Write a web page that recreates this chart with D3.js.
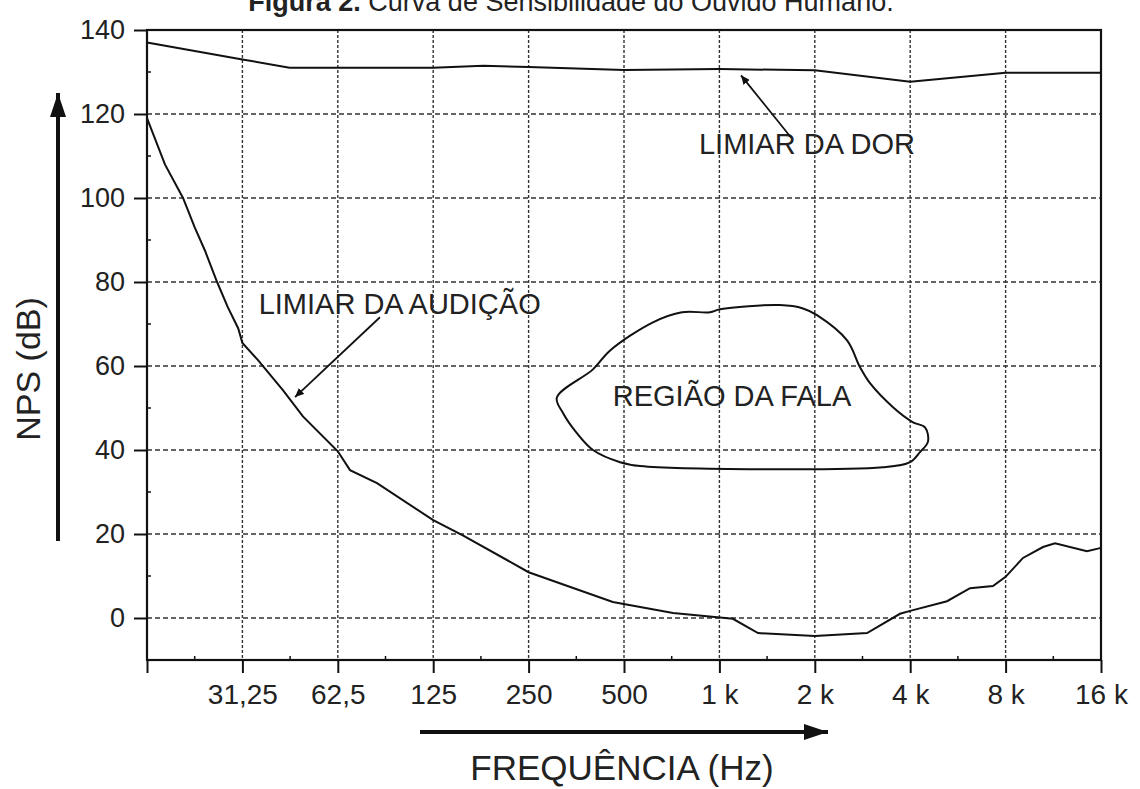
<!DOCTYPE html>
<html>
<head>
<meta charset="utf-8">
<script src="https://cdnjs.cloudflare.com/ajax/libs/d3/7.8.5/d3.min.js"></script>
<style>
  body { margin: 0; background: #fff; }
  svg text { font-family: "Liberation Sans", Arial, sans-serif; fill: #222; }
</style>
</head>
<body>
<div id="chart"></div>
<script>
// frequency ticks (Hz) and their printed labels
const freqTicks = [15.625, 31.25, 62.5, 125, 250, 500, 1000, 2000, 4000, 8000, 16000];
const freqLabels = ["", "31,25", "62,5", "125", "250", "500", "1 k", "2 k", "4 k", "8 k", "16 k"];
const npsTicks = [0, 20, 40, 60, 80, 100, 120, 140];

// limiar da dor  [Hz, dB]
const painFreq = [15.625, 31.25, 44, 62.5, 125, 180, 250, 500, 1000, 2000, 4000, 8000, 16000];
const painDb = [137, 133, 131, 131, 131, 131.5, 131.2, 130.5, 130.7, 130.4, 127.7, 129.8, 129.8];

// limiar da audicao [Hz, dB]
const hearFreq = [15.625, 17.8, 20.3, 22.1, 23.8, 26, 28.1, 30.3, 31.25, 35, 42, 48.5, 62.5, 68.3, 83.1,
  125, 155, 250, 461, 714, 1103, 1324, 2000, 2924, 3714, 4000, 5227, 6178, 7298, 8000, 9078,
  10497, 11456, 14450, 16000];
const hearDb = [119, 108, 100, 93, 87.5, 80, 74, 69, 65.5, 61.4, 54.2, 48, 39.7, 35.2, 32.1,
  23.3, 19.7, 10.9, 3.8, 1.2, -0.2, -3.6, -4.3, -3.6, 1, 1.7, 4, 7.1, 7.6, 9.8, 14.3,
  16.9, 17.8, 15.9, 16.7];

// regiao da fala (closed outline) [Hz, dB]
const speechFreq = [307, 399, 452, 617, 762, 934, 1004, 1553, 1836, 2032, 2528, 2778, 2987, 3530,
  4083, 4454, 4551, 4294, 3995, 3283, 562, 486, 399, 355, 321];
const speechDb = [52.5, 59.2, 63.7, 70.4, 72.8, 72.8, 73.5, 74.5, 73.7, 72.1, 66.1, 59.7, 55.9, 50.2,
  46.6, 45.4, 42, 39.5, 37.1, 35.9, 36.2, 37.1, 40, 44, 48.8];

// annotation labels and arrows (data units)
const labels = [
  { text: "LIMIAR DA DOR", f: 1889, db: 110.5 },
  { text: "LIMIAR DA AUDIÇÃO", f: 98, db: 72.5 },
  { text: "REGIÃO DA FALA", f: 1096, db: 50.5 }
];
const arrows = [
  { f1: 1683, db1: 114.4, f2: 1170, db2: 129.2 },
  { f1: 84.9, db1: 71.6, f2: 45.8, db2: 52.6 }
];

const W = 1140, H = 789;
const margin = { left: 147, right: 1101, top: 30, bottom: 660 };

const svg = d3.select("#chart").append("svg")
  .attr("width", W)
  .attr("height", H);

const x = d3.scaleLog().base(2).domain([15.625, 16000]).range([margin.left, margin.right]);
const y = d3.scaleLinear().domain([-10, 140]).range([margin.bottom, margin.top]);

const defs = svg.append("defs");
defs.append("marker")
  .attr("id", "head")
  .attr("viewBox", "0 0 10 10")
  .attr("refX", 10).attr("refY", 5)
  .attr("markerWidth", 9).attr("markerHeight", 8)
  .attr("markerUnits", "userSpaceOnUse")
  .attr("orient", "auto")
  .attr("preserveAspectRatio", "none")
  .append("path").attr("d", "M0,0L10,5L0,10z").attr("fill", "#111");

// grid
svg.append("g").selectAll("line")
  .data(freqTicks.slice(1, -1))
  .join("line")
  .attr("x1", d => x(d)).attr("x2", d => x(d))
  .attr("y1", margin.top).attr("y2", margin.bottom)
  .attr("stroke", "#333").attr("stroke-width", 1.4)
  .attr("stroke-dasharray", "3 2");

svg.append("g").selectAll("line")
  .data(npsTicks.slice(0, -1))
  .join("line")
  .attr("x1", margin.left).attr("x2", margin.right)
  .attr("y1", d => y(d)).attr("y2", d => y(d))
  .attr("stroke", "#333").attr("stroke-width", 1.4)
  .attr("stroke-dasharray", "5 3");

// axes
const xAxis = svg.append("g")
  .attr("transform", `translate(0,${margin.bottom})`)
  .call(d3.axisBottom(x).tickValues(freqTicks).tickFormat((d, i) => freqLabels[i]).tickSize(13).tickPadding(11));
xAxis.select(".domain").remove();
xAxis.selectAll("line").attr("stroke", "#111").attr("stroke-width", 2);
xAxis.selectAll("text").attr("font-size", 28).attr("fill", "#222");

const minorF = freqTicks.slice(0, -1).map(d => d * Math.SQRT2);
svg.append("g").selectAll("line")
  .data(minorF)
  .join("line")
  .attr("x1", d => x(d)).attr("x2", d => x(d))
  .attr("y1", margin.bottom).attr("y2", margin.bottom - 4)
  .attr("stroke", "#111").attr("stroke-width", 1.5);

const yAxis = svg.append("g")
  .attr("transform", `translate(${margin.left},0)`)
  .call(d3.axisLeft(y).tickValues(npsTicks).tickSize(13).tickPadding(9));
yAxis.select(".domain").remove();
yAxis.selectAll("line").attr("stroke", "#111").attr("stroke-width", 2);
yAxis.selectAll("text").attr("font-size", 27).attr("fill", "#222");

svg.append("g").selectAll("line")
  .data(d3.range(-10, 140, 20))
  .join("line")
  .attr("x1", margin.left).attr("x2", margin.left + 4)
  .attr("y1", d => y(d)).attr("y2", d => y(d))
  .attr("stroke", "#111").attr("stroke-width", 1.5);

// frame
svg.append("rect")
  .attr("x", margin.left).attr("y", margin.top)
  .attr("width", margin.right - margin.left).attr("height", margin.bottom - margin.top)
  .attr("fill", "none").attr("stroke", "#111").attr("stroke-width", 2.2);

// curves
const line = d3.line()
  .x(d => x(d[0]))
  .y(d => y(d[1]));

svg.append("path")
  .datum(d3.zip(painFreq, painDb))
  .attr("d", line)
  .attr("fill", "none").attr("stroke", "#111").attr("stroke-width", 2);

svg.append("path")
  .datum(d3.zip(hearFreq, hearDb))
  .attr("d", line)
  .attr("fill", "none").attr("stroke", "#111").attr("stroke-width", 2);

svg.append("path")
  .datum(d3.zip(speechFreq, speechDb))
  .attr("d", line.curve(d3.curveCatmullRomClosed.alpha(0.5)))
  .attr("fill", "none").attr("stroke", "#111").attr("stroke-width", 2);

// annotations
svg.append("g").selectAll("text")
  .data(labels)
  .join("text")
  .attr("x", d => x(d.f)).attr("y", d => y(d.db))
  .attr("text-anchor", "middle")
  .attr("font-size", 29)
  .text(d => d.text);

svg.append("g").selectAll("line")
  .data(arrows)
  .join("line")
  .attr("x1", d => x(d.f1)).attr("y1", d => y(d.db1))
  .attr("x2", d => x(d.f2)).attr("y2", d => y(d.db2))
  .attr("stroke", "#111").attr("stroke-width", 1.8)
  .attr("marker-end", "url(#head)");

// big axis arrows + titles
defs.append("marker")
  .attr("id", "bighead")
  .attr("viewBox", "0 0 10 10")
  .attr("refX", 10).attr("refY", 5)
  .attr("markerWidth", 24).attr("markerHeight", 16)
  .attr("markerUnits", "userSpaceOnUse")
  .attr("orient", "auto")
  .attr("preserveAspectRatio", "none")
  .append("path").attr("d", "M0,0L10,5L0,10z").attr("fill", "#111");

svg.append("line")
  .attr("x1", 58).attr("y1", 541).attr("x2", 58).attr("y2", 93)
  .attr("stroke", "#111").attr("stroke-width", 4)
  .attr("marker-end", "url(#bighead)");

svg.append("line")
  .attr("x1", 420).attr("y1", 732).attr("x2", 828).attr("y2", 732)
  .attr("stroke", "#111").attr("stroke-width", 4)
  .attr("marker-end", "url(#bighead)");

svg.append("text")
  .attr("transform", "translate(40,369) rotate(-90)")
  .attr("text-anchor", "middle")
  .attr("font-size", 34)
  .text("NPS (dB)");

svg.append("text")
  .attr("x", 622).attr("y", 780)
  .attr("text-anchor", "middle")
  .attr("font-size", 35)
  .text("FREQUÊNCIA (Hz)");

const title = svg.append("text")
  .attr("x", 571).attr("y", 11)
  .attr("text-anchor", "middle")
  .attr("font-size", 27);
title.append("tspan").attr("font-weight", "bold").text("Figura 2.");
title.append("tspan").text(" Curva de Sensibilidade do Ouvido Humano.");
</script>
</body>
</html>
